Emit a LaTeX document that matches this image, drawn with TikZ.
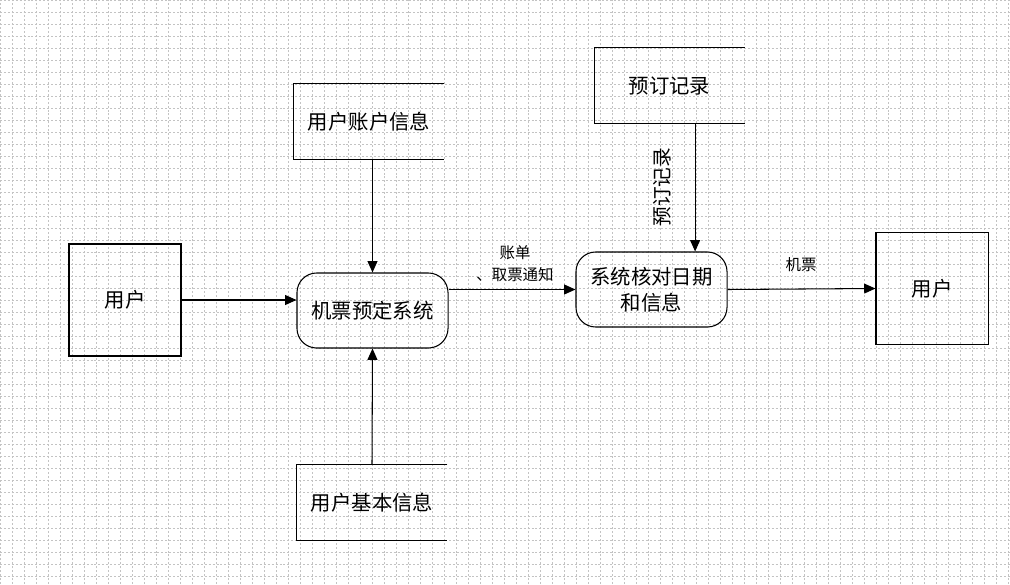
\documentclass[tikz,border=0pt]{standalone}
\usepackage{fontspec}
\setmainfont{Noto Sans CJK SC}
\usetikzlibrary{positioning,calc,arrows.meta}
\definecolor{gridgray}{RGB}{195,195,195}

\begin{document}
\begin{tikzpicture}[
    x=0.025cm, y=-0.025cm,
    gridline/.style={draw=gridgray, line width=0.55pt, dash pattern=on 1.4pt off 1.4pt},
    entity/.style={rectangle, draw=black, line width=0.75pt,
                   minimum width=2.8cm, minimum height=2.8cm,
                   font=\fontsize{14.5}{18.5}\selectfont},
    process/.style={rectangle, rounded corners=14pt, draw=black, line width=0.75pt,
                    minimum width=3.775cm, minimum height=1.875cm, align=center,
                    font=\fontsize{14.5}{18.5}\selectfont},
    store/.style={rectangle, minimum width=3.75cm, minimum height=1.875cm,
                  font=\fontsize{14.5}{18.5}\selectfont},
    storeline/.style={draw=black, line width=0.75pt},
    arrow/.style={-{Triangle[length=8pt,width=7pt]}, line width=0.75pt, draw=black},
    flowlabel/.style={font=\fontsize{11}{15.5}\selectfont, align=center}
]

\useasboundingbox (0,0) rectangle (1010,584);
\draw[gridline] (0,0) grid[step=0.3cm] (1010,584);

% external entities
\node[entity] (user1) at (125,300) {用户};
\node[entity] (user2) at (932,288.5) {用户};

% processes
\node[process] (sys1) at (372.5,310.5) {机票预定系统};
\node[process] (sys2) at (651.5,289.5) {系统核对日期\\和信息};

% data stores (open on the right)
\node[store] (acct) at (369,121.5) {用户账户信息};
\draw[storeline] (acct.north east) -- (acct.north west) -- (acct.south west) -- (acct.south east);

\node[store] (basic) at (372,502.5) {用户基本信息};
\draw[storeline] (basic.north east) -- (basic.north west) -- (basic.south west) -- (basic.south east);

\node[store] (rec) at (669.5,85.5) {预订记录};
\draw[storeline] (rec.north east) -- (rec.north west) -- (rec.south west) -- (rec.south east);

% flows
\draw[arrow] (user1.east) -- (user1.east -| sys1.west);
\draw[arrow] (acct.south -| sys1.north) -- (sys1.north);
\draw[arrow] (basic.north) -- (sys1.south);

\draw[arrow] (sys1.east |- sys2.west) -- (sys2.west);
\node[flowlabel] (billlbl) at (515,264) {账单\\、取票通知};

\draw[arrow] ([xshift=0.64cm]rec.south) -- ([xshift=0.64cm]rec.south |- sys2.north);
\node[flowlabel, rotate=90, font=\fontsize{14}{16}\selectfont] (reclbl) at (662,187) {预订记录};

\draw[arrow] (sys2.east) -- (user2.west);
\node[flowlabel] (ticketlbl) at (801,265) {机票};

\end{tikzpicture}
\end{document}
